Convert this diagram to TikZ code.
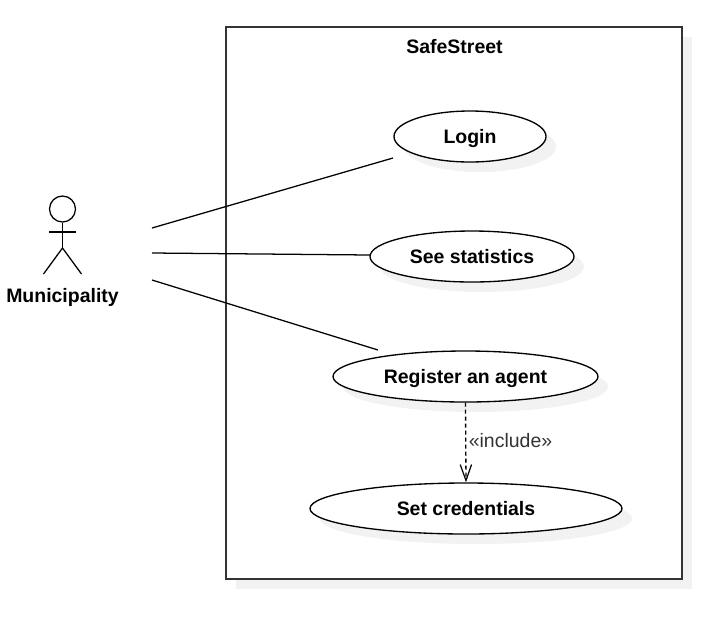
\documentclass[tikz,border=0pt]{standalone}
\usepackage{fontspec}
\setmainfont{Liberation Sans}
\usetikzlibrary{shapes.geometric,shadows,arrows.meta}
\definecolor{softgray}{HTML}{F2F2F2}
\definecolor{framecol}{HTML}{333333}
\tikzset{
  usecase/.style={ellipse,draw=black,fill=white,line width=1pt,inner sep=0pt,
    minimum height=38.25pt,text height=13.5pt,text depth=3pt,font=\fontsize{14.6}{17}\selectfont\bfseries,
    drop shadow={shadow xshift=7.5pt,shadow yshift=-7.5pt,fill=softgray,opacity=1}},
  assoc/.style={draw=black,line width=0.95pt},
  limb/.style={draw=black,line width=0.95pt},
  lbl/.style={inner sep=0pt,text height=13.5pt,text depth=3pt,font=\fontsize{14.6}{17}\selectfont\bfseries},
  dep/.style={draw=black,line width=1pt,dash pattern=on 3pt off 2.25pt,
    -{Straight Barb[length=12pt,width=8.5pt,line width=0.9pt]}},
}
\begin{document}
\begin{tikzpicture}[x=0.75pt,y=-0.75pt]
\useasboundingbox (0,0) rectangle (718,637);
\fill[softgray] (236,37) rectangle (692,589);
\node[rectangle,draw=framecol,fill=white,line width=1.1pt,inner sep=0pt,
  minimum width=342pt,minimum height=414pt] (sys) at (454,303) {};
\node[lbl] (title) at (454.5,46) {SafeStreet};
\node[usecase,minimum width=114pt] (login) at (470,136.5) {Login};
\node[usecase,minimum width=153pt] (stats) at (472,256.5) {See statistics};
\node[usecase,minimum width=198.75pt] (reg) at (465.5,376.5) {Register an agent};
\node[usecase,minimum width=234pt] (cred) at (466,508.5) {Set credentials};
% actor
\node[circle,draw=black,line width=0.95pt,inner sep=0pt,minimum size=19.5pt] (head) at (62.5,209) {};
\coordinate (neck) at (62.5,248);
\coordinate (armL) at (49,232);
\coordinate (armR) at (76,232);
\coordinate (legL) at (43.5,274);
\coordinate (legR) at (81.5,274);
\draw[limb] (head.south) -- (neck);
\draw[limb] (armL) -- (armR);
\draw[limb] (legL) -- (neck) -- (legR);
\node[lbl] (actor) at (62.5,295.5) {Municipality};
% connectors
\coordinate (a1) at (152,228);
\coordinate (a2) at (152,253);
\coordinate (a3) at (152,280);
\coordinate (e1) at (393,158);
\coordinate (e2) at (370,255);
\coordinate (e3) at (378,350);
\draw[assoc] (a1) -- (e1);
\draw[assoc] (a2) -- (e2);
\draw[assoc] (a3) -- (e3);
\draw[dep] (reg.south) -- (cred.north);
\node[inner sep=0pt,text=framecol,font=\fontsize{14.6}{17}\selectfont] (inc) at (510.5,441) {«include»};
\end{tikzpicture}
\end{document}
